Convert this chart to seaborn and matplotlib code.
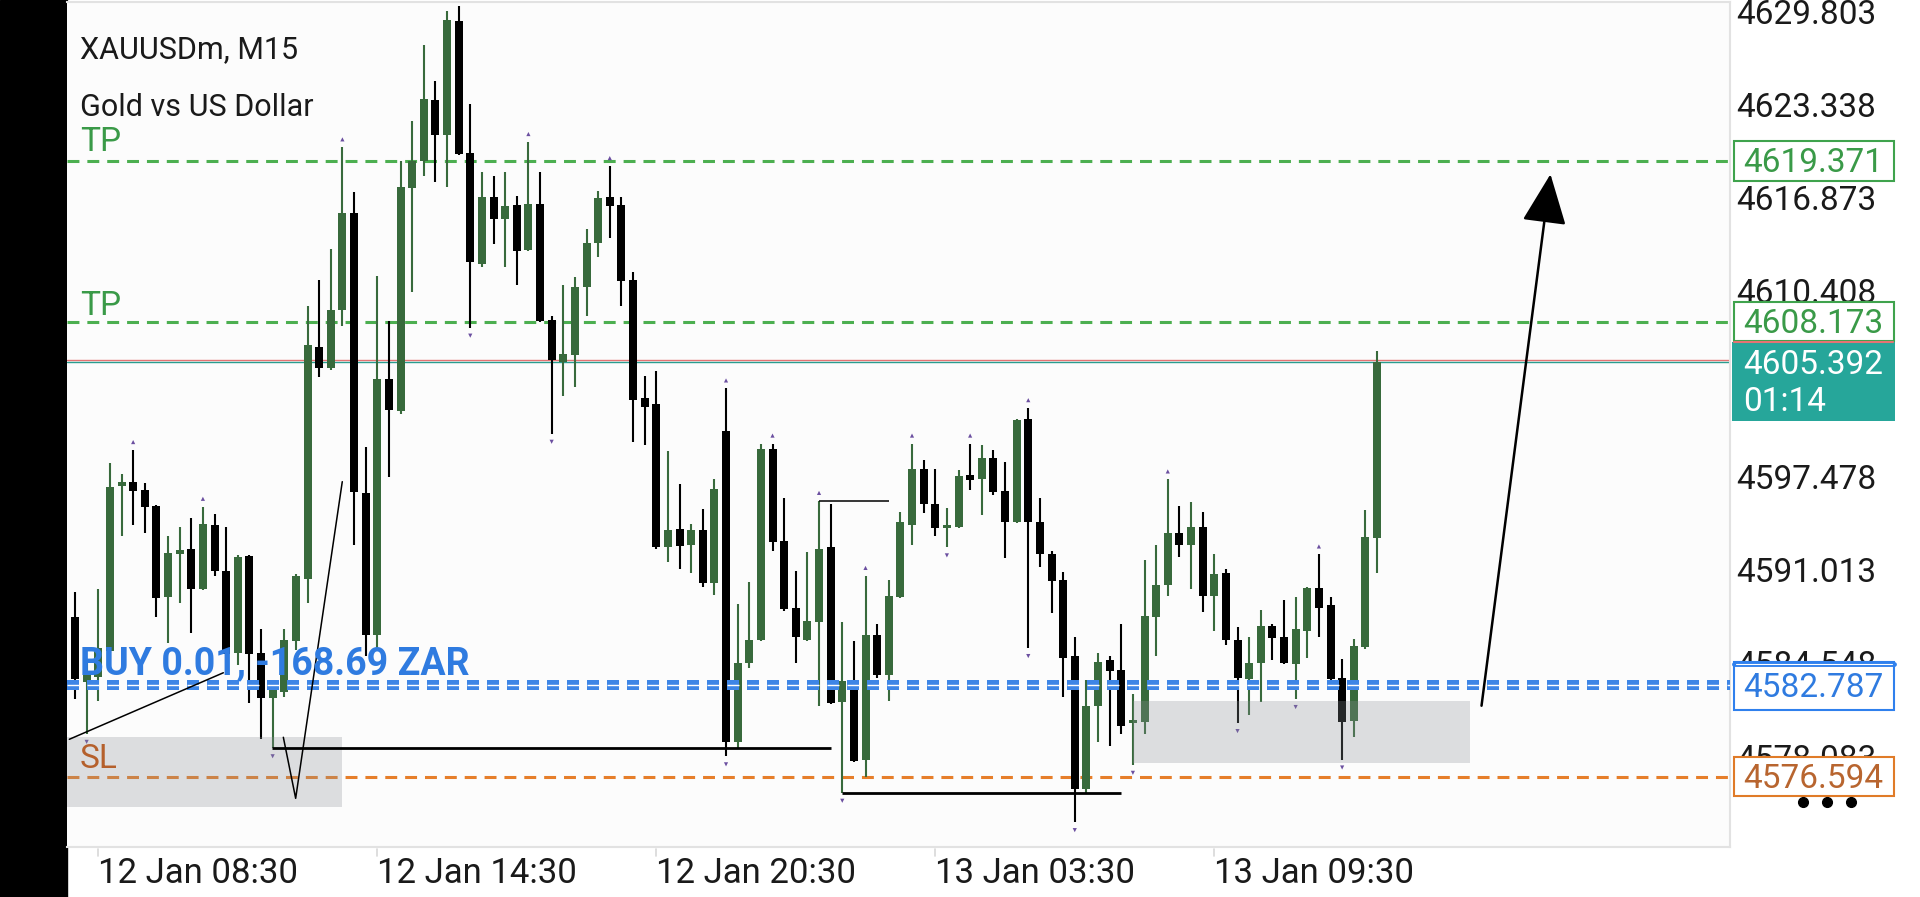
import numpy as np
import matplotlib.pyplot as plt
import matplotlib.transforms as mtransforms
from matplotlib.patches import Rectangle
from matplotlib.lines import Line2D
import seaborn as sns

sns.set_theme(style="white")
plt.rcParams['font.family'] = ['Roboto', 'DejaVu Sans']

# XAUUSDm M15 candles, 12 Jan 08:00 -> 13 Jan ~11:00
opens = [4587.66, 4583.19, 4583.54, 4585.33, 4596.75, 4597.04, 4596.50, 4595.39, 4589.05, 4592.05,
         4592.41, 4589.61, 4594.07, 4590.90, 4585.20, 4591.94, 4585.20, 4582.05, 4582.50, 4586.04,
         4590.35, 4606.42, 4604.94, 4609.03, 4615.72, 4596.31, 4586.45, 4604.19, 4601.96, 4617.44,
         4619.37, 4623.57, 4621.16, 4629.04, 4619.93, 4612.23, 4616.84, 4615.35, 4616.28, 4613.19,
         4616.39, 4608.28, 4605.42, 4605.90, 4610.63, 4613.68, 4616.88, 4616.28, 4611.07, 4602.89,
         4602.44, 4592.51, 4593.78, 4592.66, 4593.70, 4590.06, 4600.58, 4579.01, 4584.51, 4586.08,
         4599.36, 4592.96, 4588.31, 4586.08, 4587.31, 4592.51, 4581.80, 4583.21, 4577.78, 4586.45,
         4583.66, 4589.05, 4594.07, 4597.98, 4595.56, 4593.85, 4593.96, 4597.57, 4597.24, 4598.73,
         4596.42, 4594.26, 4601.40, 4594.26, 4592.03, 4590.28, 4584.96, 4575.77, 4581.50, 4584.70,
         4584.03, 4580.31, 4580.39, 4587.68, 4589.91, 4593.52, 4592.66, 4593.93, 4589.16, 4590.73,
         4586.08, 4583.36, 4584.48, 4587.08, 4586.26, 4584.40, 4586.71, 4589.72, 4588.49, 4583.47,
         4580.46, 4585.60, 4593.17]
highs = [4589.40, 4584.50, 4589.61, 4598.35, 4597.61, 4599.28, 4596.97, 4595.46, 4593.31, 4593.95,
         4594.54, 4595.34, 4594.84, 4593.95, 4591.99, 4591.99, 4586.83, 4582.70, 4586.83, 4590.67,
         4609.25, 4611.11, 4613.23, 4620.30, 4617.21, 4599.47, 4611.37, 4608.21, 4619.37, 4622.16,
         4627.37, 4624.88, 4629.79, 4630.08, 4623.28, 4618.55, 4618.33, 4618.55, 4616.95, 4620.67,
         4618.55, 4608.58, 4610.74, 4611.26, 4614.61, 4617.25, 4619.00, 4616.84, 4611.63, 4604.42,
         4604.79, 4599.21, 4596.94, 4594.15, 4595.19, 4597.24, 4603.56, 4588.57, 4590.09, 4599.73,
         4599.73, 4595.93, 4590.91, 4592.22, 4595.75, 4595.56, 4587.31, 4586.00, 4590.54, 4587.19,
         4590.28, 4595.00, 4599.73, 4598.61, 4597.98, 4595.26, 4597.91, 4599.73, 4599.65, 4599.28,
         4598.46, 4601.44, 4602.19, 4595.93, 4592.29, 4590.84, 4586.26, 4583.29, 4585.15, 4584.96,
         4587.19, 4582.36, 4591.66, 4592.66, 4597.24, 4595.38, 4595.67, 4595.00, 4592.03, 4591.03,
         4587.01, 4586.26, 4588.20, 4587.19, 4588.87, 4589.05, 4589.80, 4592.03, 4589.05, 4584.78,
         4586.16, 4595.11, 4606.16]
lows = [4581.97, 4579.56, 4581.87, 4585.15, 4593.33, 4594.07, 4593.54, 4587.70, 4585.90, 4588.64,
        4586.59, 4589.56, 4590.53, 4584.00, 4584.35, 4581.73, 4579.19, 4578.56, 4582.15, 4585.39,
        4588.66, 4604.38, 4604.86, 4607.91, 4592.66, 4585.00, 4585.50, 4597.42, 4601.81, 4610.26,
        4618.33, 4617.88, 4617.51, 4619.74, 4607.77, 4612.00, 4613.60, 4612.00, 4610.74, 4613.12,
        4608.20, 4600.40, 4603.00, 4603.67, 4608.58, 4612.67, 4614.01, 4609.25, 4599.84, 4599.65,
        4592.40, 4591.47, 4591.03, 4590.73, 4589.80, 4589.24, 4578.00, 4578.53, 4584.14, 4586.00,
        4592.29, 4588.12, 4584.48, 4586.00, 4581.50, 4581.61, 4575.47, 4577.63, 4576.59, 4583.47,
        4581.87, 4589.00, 4592.66, 4594.89, 4593.33, 4592.51, 4593.85, 4596.49, 4594.75, 4596.12,
        4591.77, 4594.20, 4585.52, 4591.17, 4587.94, 4582.10, 4573.43, 4575.47, 4579.01, 4578.75,
        4579.57, 4577.41, 4579.57, 4584.96, 4589.17, 4591.84, 4589.61, 4588.05, 4586.71, 4585.71,
        4580.31, 4580.87, 4581.80, 4584.70, 4584.40, 4581.98, 4584.85, 4586.26, 4583.21, 4577.78,
        4579.35, 4585.49, 4590.74]
closes = [4583.36, 4583.66, 4585.51, 4596.68, 4597.05, 4596.45, 4595.34, 4588.99, 4592.11, 4592.34,
          4589.61, 4594.12, 4590.90, 4585.12, 4591.87, 4585.12, 4582.08, 4582.61, 4586.09, 4590.53,
          4606.54, 4604.94, 4609.03, 4615.72, 4596.38, 4586.45, 4604.19, 4602.07, 4617.51, 4619.37,
          4623.65, 4621.16, 4629.12, 4619.85, 4612.30, 4616.84, 4615.35, 4616.21, 4613.12, 4616.39,
          4608.21, 4605.53, 4605.98, 4610.63, 4613.68, 4616.77, 4616.25, 4611.00, 4602.78, 4602.26,
          4592.51, 4593.70, 4592.59, 4593.70, 4590.06, 4596.60, 4579.01, 4584.51, 4586.08, 4599.36,
          4592.88, 4588.23, 4586.26, 4587.38, 4592.40, 4581.72, 4583.21, 4577.71, 4586.45, 4583.66,
          4589.16, 4594.26, 4597.98, 4595.56, 4593.89, 4593.96, 4597.50, 4597.20, 4598.73, 4596.38,
          4594.26, 4601.33, 4594.26, 4592.03, 4590.17, 4584.85, 4575.77, 4581.50, 4584.59, 4583.96,
          4580.13, 4580.50, 4587.75, 4589.91, 4593.52, 4592.66, 4593.96, 4589.16, 4590.65, 4586.08,
          4583.47, 4584.48, 4587.08, 4586.19, 4584.51, 4586.82, 4589.72, 4588.31, 4583.36, 4580.39,
          4585.67, 4593.24, 4605.39]

# fractal arrows (candle index)
fractal_up = [5, 11, 23, 39, 46, 56, 60, 64, 68, 72, 77, 82, 94, 107]
fractal_dn = [1, 17, 34, 41, 56, 66, 75, 82, 86, 91, 100, 105, 109]

time_ticks = [2, 26, 50, 74, 98]
time_labels = ['12 Jan 08:30', '12 Jan 14:30', '12 Jan 20:30', '13 Jan 03:30', '13 Jan 09:30']
price_ticks = [4629.803, 4623.338, 4616.873, 4610.408, 4603.943, 4597.478, 4591.013, 4584.548, 4578.083]

tp1 = 4619.371
tp2 = 4608.173
entry = 4582.787
sl = 4576.594
bid = 4605.392
ask = 4605.55
countdown = '01:14'

# user drawings
zones = [(-0.7, 22.94, 4574.49, 4579.35), (91.0, 119.97, 4577.53, 4581.88)]
levels = [(16.97, 65.0, 4578.56, 2.0), (64.0, 70.0, 4595.75, 1.1), (66.0, 90.0, 4575.47, 2.0)]
trend_a = ([-0.49, 12.76], [4579.19, 4583.81])
trend_v = ([17.92, 18.98, 22.99], [4579.33, 4575.09, 4597.08])
arrow_from = (120.99, 4581.52)
arrow_to = (126.92, 4618.43)

green = '#386a3c'
o = np.array(opens); h = np.array(highs); l = np.array(lows); c = np.array(closes)
idx = np.arange(len(o))
cols = np.where(c >= o, green, '#000000')

fig = plt.figure(figsize=(19.2, 8.97), dpi=100)
fig.patch.set_facecolor('white')
ax = fig.add_axes([67/1920, 50/897, 1662.6/1920, 845/897])
ax.set_facecolor('#fcfcfc')
fig.add_artist(Rectangle((0, 0), 67/1920, 1, transform=fig.transFigure, color='black', zorder=0))

# candles
ax.vlines(idx, l, h, colors=cols, lw=1.5, zorder=3)
body = np.maximum(np.abs(c - o), 0.2)
ax.bar(idx, body, bottom=np.minimum(o, c), width=0.69, color=cols, linewidth=0, zorder=3)

sns.scatterplot(x=np.array(fractal_up), y=h[fractal_up] + 0.55, marker='^', s=9, color='#6b4fa0',
                edgecolor='none', ax=ax, zorder=3)
sns.scatterplot(x=np.array(fractal_dn), y=l[fractal_dn] - 0.55, marker='v', s=9, color='#6b4fa0',
                edgecolor='none', ax=ax, zorder=3)

# horizontal levels
dash_kw = dict(lw=2.2, dashes=(3.9, 2.6), dash_capstyle='butt', zorder=1.5)
ax.axhline(tp1, color='#4caf50', **dash_kw)
ax.axhline(tp2, color='#4caf50', **dash_kw)
ax.axhline(sl, color='#e67e2a', **dash_kw)
ax.axhline(ask, color='#e57373', lw=1.0, zorder=2)
ax.axhline(bid, color='#2a9d8f', lw=1.0, zorder=2)
# buy position line: thick dashes split by a thin white stripe
ax.axhline(entry + 0.2, color='#3d85e6', lw=7.2, dashes=(1.2, 0.8), dash_capstyle='butt', zorder=3.5)
ax.axhline(entry + 0.2, color='white', lw=1.0, dashes=(8.64, 5.76), dash_capstyle='butt', zorder=3.6)

for x0, x1, p0, p1 in zones:
    ax.add_patch(Rectangle((x0, p0), x1 - x0, p1 - p0, facecolor=(0.545, 0.565, 0.59),
                           alpha=0.28, lw=0, zorder=4))
for x0, x1, p, w in levels:
    ax.plot([x0, x1], [p, p], color='black', lw=w, solid_capstyle='butt', zorder=5)
ax.plot(*trend_a, color='black', lw=1.1, zorder=5)
ax.plot(*trend_v, color='black', lw=1.1, zorder=5)
ax.annotate('', xy=arrow_to, xytext=arrow_from,
            arrowprops=dict(arrowstyle='-|>,head_length=0.9,head_width=0.4', mutation_scale=35,
                            lw=1.8, color='black', shrinkA=0, shrinkB=0), zorder=6)

ax.set_xlim(-0.69, 142.33)
ax.set_ylim(4571.71, 4630.39)
ax.set_xticks([])
ax.set_yticks([])
ax.spines['left'].set_visible(False)
for s in ('top', 'right', 'bottom'):
    ax.spines[s].set_color('#e2e2e2')
    ax.spines[s].set_linewidth(1.5)

tr_fy = mtransforms.blended_transform_factory(fig.transFigure, ax.transData)
tr_dx = mtransforms.blended_transform_factory(ax.transData, ax.transAxes)

# chart texts
fig.text(80/1920, 1 - 50/897, 'XAUUSDm, M15', fontsize=22, color='#1a1a1a', va='center')
fig.text(80/1920, 1 - 107/897, 'Gold vs US Dollar', fontsize=22, color='#1a1a1a', va='center')
fig.text(80/1920, 4620.70, 'TP', transform=tr_fy, fontsize=24, color='#3a9a48', va='center')
fig.text(80/1920, 4609.30, 'TP', transform=tr_fy, fontsize=24, color='#3a9a48', va='center')
fig.text(80/1920, 4577.80, 'SL', transform=tr_fy, fontsize=24, color='#b5602c', va='center', zorder=6)
fig.text(80/1920, 4584.45, 'BUY 0.01, -168.69 ZAR', transform=tr_fy, fontsize=27,
         fontweight='bold', color='#2f7be0', va='center', zorder=6)

# time axis
for t, lab in zip(time_ticks, time_labels):
    ax.text(t, -0.031, lab, transform=tr_dx, ha='left', va='center', fontsize=25,
            color='#1a1a1a', clip_on=False)
    ax.plot([t, t], [-0.002, -0.011], transform=tr_dx, color='#d8d8d8', lw=1.2, clip_on=False)

# price axis
for p in price_ticks:
    fig.text(1736/1920, p - 0.3, f'{p:.3f}', transform=tr_fy, fontsize=24, color='#1a1a1a',
             va='center', ha='left', zorder=3)

bx, bw = 1734/1920, 160/1920
def price_box(p, h_, edge, fill, txt_col, text, lw=1.5):
    fig.add_artist(Rectangle((bx, p - h_/2), bw, h_, transform=tr_fy, facecolor=fill,
                             edgecolor=edge, lw=lw, zorder=4))
    fig.text(1743/1920, p - 0.15, text, transform=tr_fy, fontsize=24, color=txt_col,
             va='center', ha='left', zorder=5)

price_box(tp1, 2.8, '#3fa34d', 'white', '#3a9a48', f'{tp1:.3f}')
price_box(tp2, 2.7, '#3fa34d', 'white', '#3a9a48', f'{tp2:.3f}')
price_box(entry + 0.1, 3.3, '#2f80ed', 'white', '#2f7be0', f'{entry:.3f}')
price_box(sl, 2.7, '#e07b28', 'white', '#b8652f', f'{sl:.3f}')
fig.add_artist(Line2D([bx, bx + bw], [entry + 1.6, entry + 1.6], transform=tr_fy,
                      color='#2f80ed', lw=3.5, zorder=4))
fig.add_artist(Line2D([bx + 0.001, bx + bw - 0.001], [entry + 1.6, entry + 1.6], transform=tr_fy,
                      color='white', lw=0.8, zorder=4))
# live price tag
fig.add_artist(Rectangle((1732/1920, 4601.29), 163/1920, 5.51, transform=tr_fy,
                         facecolor='#26a69a', edgecolor='none', zorder=4))
fig.add_artist(Line2D([1734/1920, 1893/1920], [4606.80, 4606.80], transform=tr_fy,
                      color='#e57373', lw=1.5, zorder=4))
fig.text(1743/1920, 4605.20, f'{bid:.3f}', transform=tr_fy, fontsize=24, color='white',
         va='center', ha='left', zorder=5)
fig.text(1743/1920, 4602.60, countdown, transform=tr_fy, fontsize=24, color='white',
         va='center', ha='left', zorder=5)

fig.add_artist(Line2D([1803/1920, 1827/1920, 1851/1920], [1 - 802/897] * 3, transform=fig.transFigure,
                      ls='none', marker='o', ms=7, color='black', zorder=5))

fig.savefig('out.png', dpi=100)
